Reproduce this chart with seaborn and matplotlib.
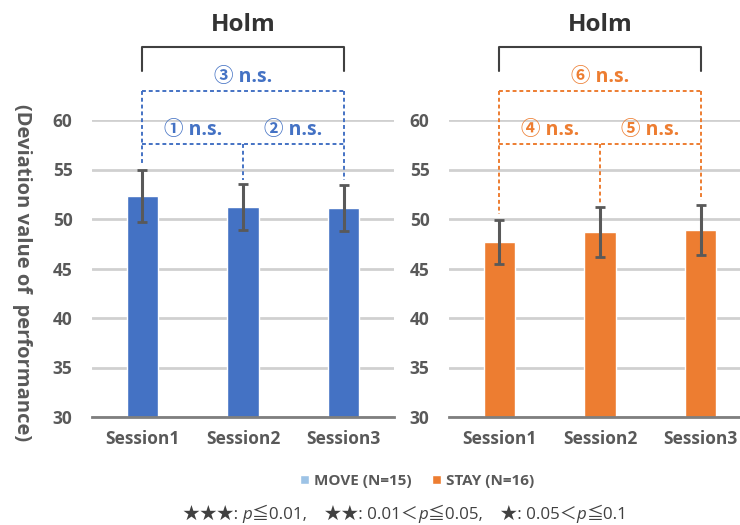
import numpy as np
import pandas as pd
import matplotlib
matplotlib.use("Agg")
import matplotlib.pyplot as plt
from matplotlib.patches import Patch
import seaborn as sns

sessions = ["Session1", "Session2", "Session3"]
move_mean = [52.3, 51.2, 51.1]
move_err = [2.6, 2.3, 2.3]
stay_mean = [47.7, 48.7, 48.9]
stay_err = [2.2, 2.55, 2.55]
move_tests = ["① n.s.", "② n.s.", "③ n.s."]
stay_tests = ["④ n.s.", "⑤ n.s.", "⑥ n.s."]
legend_labels = ["MOVE (N=15)", "STAY (N=16)"]
y_ticks = [30, 35, 40, 45, 50, 55, 60]

BLUE = "#4472C4"
ORANGE = "#ED7D31"
LIGHT_BLUE = "#9DC3E6"
GRAY_TXT = "#595959"
DARK = "#404040"

sns.set_theme(style="white")
FONT = ["Open Sans", "Noto Sans CJK JP", "DejaVu Sans"]
plt.rcParams["font.family"] = FONT

fig = plt.figure(figsize=(7.4, 5.25), dpi=100)
W, H = 740, 525
bottom = (H - 417) / H
height = (417 - 120) / H
ax1 = fig.add_axes([92 / W, bottom, 302 / W, height])
ax2 = fig.add_axes([449 / W, bottom, (740 - 449) / W, height])


def panel(ax, means, errs, color, tests, xmax):
    df = pd.DataFrame({"session": sessions, "value": means})
    sns.barplot(data=df, x="session", y="value", color=color, width=0.31,
                saturation=1, errorbar=None, ax=ax, zorder=3)
    ax.errorbar(np.arange(len(sessions)), means, yerr=errs, fmt="none",
                ecolor=GRAY_TXT, elinewidth=2.2, capsize=3.5, capthick=2,
                zorder=4)
    ax.set_ylim(30, 60)
    ax.set_xlim(-0.5, xmax)
    ax.set_yticks(y_ticks)
    ax.set_yticklabels([str(t) for t in y_ticks])
    ax.yaxis.grid(True, color="#D0D0D0", linewidth=2, zorder=0)
    ax.set_axisbelow(True)
    for s in ["top", "right", "left"]:
        ax.spines[s].set_visible(False)
    ax.spines["bottom"].set_color("#7F7F7F")
    ax.spines["bottom"].set_linewidth(2)
    ax.spines["bottom"].set_zorder(5)
    ax.tick_params(axis="y", length=0, pad=14, labelsize=12.5,
                   labelcolor=GRAY_TXT)
    ax.tick_params(axis="x", length=0, pad=9, labelsize=12.5,
                   labelcolor=GRAY_TXT)
    for lab in ax.get_yticklabels() + ax.get_xticklabels():
        lab.set_fontweight("bold")
    ax.set_xlabel("")
    ax.set_ylabel("")

    tops = [m + e for m, e in zip(means, errs)]
    outer, inner = 62.93, 57.58
    dash = dict(color=color, linewidth=1.4, linestyle=(0, (2.0, 1.5)),
                clip_on=False, zorder=6)
    # pairwise comparison brackets
    ax.plot([0, 0], [outer, tops[0] + 0.6], **dash)
    ax.plot([2, 2], [outer, tops[2] + 0.5], **dash)
    ax.plot([0, 2], [outer, outer], **dash)
    ax.plot([0, 2], [inner, inner], **dash)
    ax.plot([1, 1], [inner, tops[1] + 0.4], **dash)
    tkw = dict(color=color, fontsize=14, fontweight="bold", ha="center",
               va="center", family=FONT, clip_on=False)
    ax.text(0.5, 59.0, tests[0], **tkw)
    ax.text(1.5, 59.0, tests[1], **tkw)
    ax.text(1.0, 64.3, tests[2], **tkw)
    # overall test bracket
    ax.plot([0, 0, 2, 2], [64.95, 67.4, 67.4, 64.95], color=DARK,
            linewidth=1.5, clip_on=False, zorder=6)
    ax.text(1.0, 69.6, "Holm", color="#333333", fontsize=17.5,
            fontweight="bold", ha="center", va="center", clip_on=False)


panel(ax1, move_mean, move_err, BLUE, move_tests, 2.5)
panel(ax2, stay_mean, stay_err, ORANGE, stay_tests, (740 - 449) / 100.7 - 0.5)

fig.text(22 / W, 1 - 273 / H, "(Deviation value of  performance)",
         rotation=-90, ha="center", va="center", fontsize=14.5,
         fontweight="bold", color=GRAY_TXT)

handles = [Patch(facecolor=LIGHT_BLUE), Patch(facecolor=ORANGE)]
leg = fig.legend(handles, legend_labels, loc="center",
                 bbox_to_anchor=(417 / W, 1 - 481 / H), ncol=2, frameon=False,
                 handlelength=0.6, handleheight=0.6, handletextpad=0.3,
                 columnspacing=1.35, fontsize=11)
for t in leg.get_texts():
    t.set_fontweight("bold")
    t.set_color(GRAY_TXT)

# significance key, with an italic p
pieces = [("★★★: ", "normal"), ("p", "italic"), ("≦0.01,    ★★: 0.01＜", "normal"),
          ("p", "italic"), ("≦0.05,    ★: 0.05＜", "normal"), ("p", "italic"),
          ("≦0.1", "normal")]
renderer = fig.canvas.get_renderer()
texts = []
for s, style in pieces:
    t = fig.text(0, 1 - 515 / H, s, fontsize=12.2, style=style,
                 family=["Open Sans", "Noto Sans CJK JP", "DejaVu Sans"],
                 color=DARK, ha="left", va="center")
    texts.append(t)
widths = [t.get_window_extent(renderer).width for t in texts]
x = 405 - sum(widths) / 2
for t, w in zip(texts, widths):
    t.set_x(x / W)
    x += w

fig.savefig("out.png", dpi=100)
